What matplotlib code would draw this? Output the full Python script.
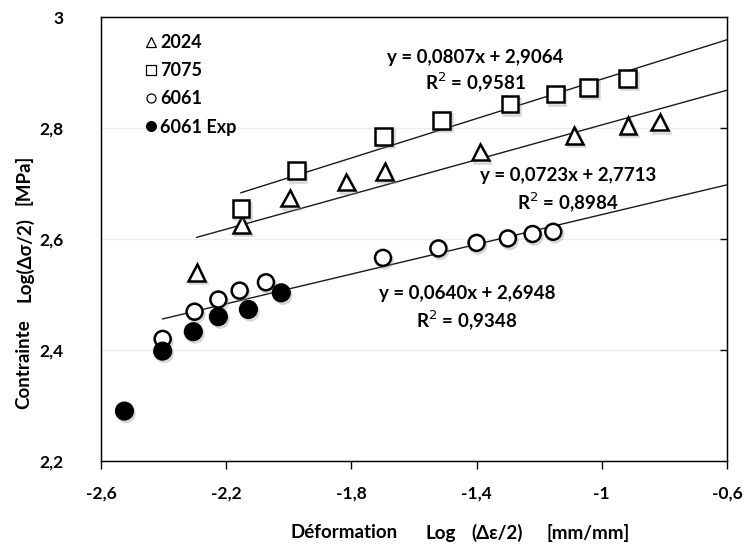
import matplotlib
matplotlib.use("Agg")
import matplotlib.pyplot as plt
import matplotlib.patheffects as pe
from matplotlib.lines import Line2D
import numpy as np

plt.rcParams['font.family'] = ['Lato', 'DejaVu Sans']

# ---- data ----
x_2024 = [-2.294, -2.151, -1.997, -1.816, -1.694, -1.388, -1.088, -0.916, -0.815]
y_2024 = [2.540, 2.626, 2.674, 2.703, 2.722, 2.757, 2.787, 2.805, 2.811]

x_7075 = [-2.153, -1.976, -1.697, -1.512, -1.293, -1.148, -1.042, -0.917]
y_7075 = [2.655, 2.723, 2.785, 2.814, 2.843, 2.861, 2.873, 2.889]

x_6061 = [-2.403, -2.301, -2.225, -2.157, -2.073, -1.699, -1.522, -1.400,
          -1.300, -1.221, -1.155]
y_6061 = [2.420, 2.469, 2.491, 2.507, 2.522, 2.566, 2.583, 2.593, 2.601,
          2.609, 2.613]

x_exp = [-2.525, -2.403, -2.305, -2.225, -2.129, -2.024]
y_exp = [2.290, 2.398, 2.433, 2.460, 2.473, 2.503]

# drawn trend lines (slope, intercept) as they appear in the plot
trend_7075 = (0.1775, 3.0655)
trend_2024 = (0.1565, 2.962)
trend_6061 = (0.134, 2.778)
trend_end = -0.6

eq_labels = [
    ("y = 0,0807x + 2,9064", "R$^2$ = 0,9581"),
    ("y = 0,0723x + 2,7713", "R$^2$ = 0,8984"),
    ("y = 0,0640x + 2,6948", "R$^2$ = 0,9348"),
]
legend_labels = ["2024", "7075", "6061", "6061 Exp"]

x_ticks = [-2.6, -2.2, -1.8, -1.4, -1.0, -0.6]
x_ticklabels = ["-2,6", "-2,2", "-1,8", "-1,4", "-1", "-0,6"]
y_ticks = [2.2, 2.4, 2.6, 2.8, 3.0]
y_ticklabels = ["2,2", "2,4", "2,6", "2,8", "3"]

x_label_parts = ["Déformation", "Log", "(Δε/2)", "[mm/mm]"]
y_label_parts = ["Contrainte", "Log(Δσ/2)", "[MPa]"]

# ---- figure ----
W, H = 747, 545
fig = plt.figure(figsize=(W / 100, H / 100), dpi=100)
ax = fig.add_axes([0.1352, 0.1541, 0.838, 0.8147])
ax.set_xlim(-2.6, -0.6)
ax.set_ylim(2.2, 3.0)

for v in [2.4, 2.6, 2.8]:
    ax.axhline(v, color="#ececec", lw=1.0, zorder=0)

shadow = [pe.SimpleLineShadow(offset=(1.2, -1.8), shadow_color="0.55", alpha=0.35),
          pe.Normal()]

def trend(xs, coef):
    xx = np.array([min(xs), trend_end])
    return xx, coef[0] * xx + coef[1]

for xs, coef in [(x_7075, trend_7075), (x_2024, trend_2024), (x_6061, trend_6061)]:
    tx, ty = trend(xs, coef)
    ax.plot(tx, ty, color="#1a1a1a", lw=1.0, zorder=2)

mk = dict(linestyle="none", markeredgecolor="black", markeredgewidth=1.8, zorder=3)
ax.plot(x_2024, y_2024, marker="^", markersize=12, markerfacecolor="white",
        path_effects=shadow, **mk)
ax.plot(x_7075, y_7075, marker="s", markersize=12, markerfacecolor="white",
        path_effects=shadow, **mk)
ax.plot(x_6061, y_6061, marker="o", markersize=11.5, markerfacecolor="white",
        path_effects=shadow, **mk)
ax.plot(x_exp, y_exp, marker="o", markersize=12, markerfacecolor="black",
        path_effects=shadow, **mk)

# equation labels
fs_eq = 13.5
eq_pos = [(475, 57, 82), (568, 176, 202), (467, 294, 320)]
for (l1, l2), (px, py1, py2) in zip(eq_labels, eq_pos):
    fig.text(px / W, 1 - py1 / H, l1, ha="center", va="center",
             fontsize=fs_eq, fontweight="bold")
    fig.text(px / W, 1 - py2 / H, l2, ha="center", va="center",
             fontsize=fs_eq, fontweight="bold")

# legend
handles = [
    Line2D([], [], marker="^", linestyle="none", markersize=6.5, markerfacecolor="white",
           markeredgecolor="black", markeredgewidth=0.9),
    Line2D([], [], marker="s", linestyle="none", markersize=7, markerfacecolor="white",
           markeredgecolor="black", markeredgewidth=0.9),
    Line2D([], [], marker="o", linestyle="none", markersize=6.5, markerfacecolor="white",
           markeredgecolor="black", markeredgewidth=0.9),
    Line2D([], [], marker="o", linestyle="none", markersize=7, markerfacecolor="black",
           markeredgecolor="black", markeredgewidth=0.9),
]
leg = ax.legend(handles, legend_labels, loc="upper left",
                bbox_to_anchor=((146 - 101) / 626, 1 - (34 - 17) / 444),
                frameon=False, handlelength=0.6, handletextpad=0.2,
                labelspacing=0.62, borderpad=0, borderaxespad=0,
                prop=dict(size=13, weight="bold"))

# axes styling
for s in ax.spines.values():
    s.set_color("black")
    s.set_linewidth(1.0)
ax.set_xticks(x_ticks)
ax.set_xticklabels(x_ticklabels, fontsize=12.5, fontweight="bold")
ax.set_yticks(y_ticks)
ax.set_yticklabels(y_ticklabels, fontsize=12.5, fontweight="bold")
ax.tick_params(axis="x", direction="out", length=6, width=1, pad=12)
ax.tick_params(axis="y", length=0, pad=27)

# inner ticks on right spine
ax2 = ax.twinx()
ax2.set_ylim(2.2, 3.0)
ax2.set_yticks([2.4, 2.6, 2.8])
ax2.set_yticklabels([])
ax2.tick_params(axis="y", direction="in", length=5, width=1)

# axis titles: one font size for all pieces, sized so the first word
# spans the same width as in the reference (about 107 px)
renderer = fig.canvas.get_renderer()
probe = fig.text(0, 0, x_label_parts[0], fontsize=10, fontweight="bold")
w10 = probe.get_window_extent(renderer).width
probe.remove()
fs_title = 10 * 107 / w10

x_part_centers = [344, 441, 497, 588]
for t, cx in zip(x_label_parts, x_part_centers):
    fig.text(cx / W, 1 - 533 / H, t, ha="center", va="center",
             fontsize=fs_title, fontweight="bold")
y_part_centers = [364, 259, 180]
for t, cy in zip(y_label_parts, y_part_centers):
    fig.text(24 / W, 1 - cy / H, t, ha="center", va="center", rotation=90,
             fontsize=fs_title, fontweight="bold")

fig.savefig("out.png", dpi=100)
